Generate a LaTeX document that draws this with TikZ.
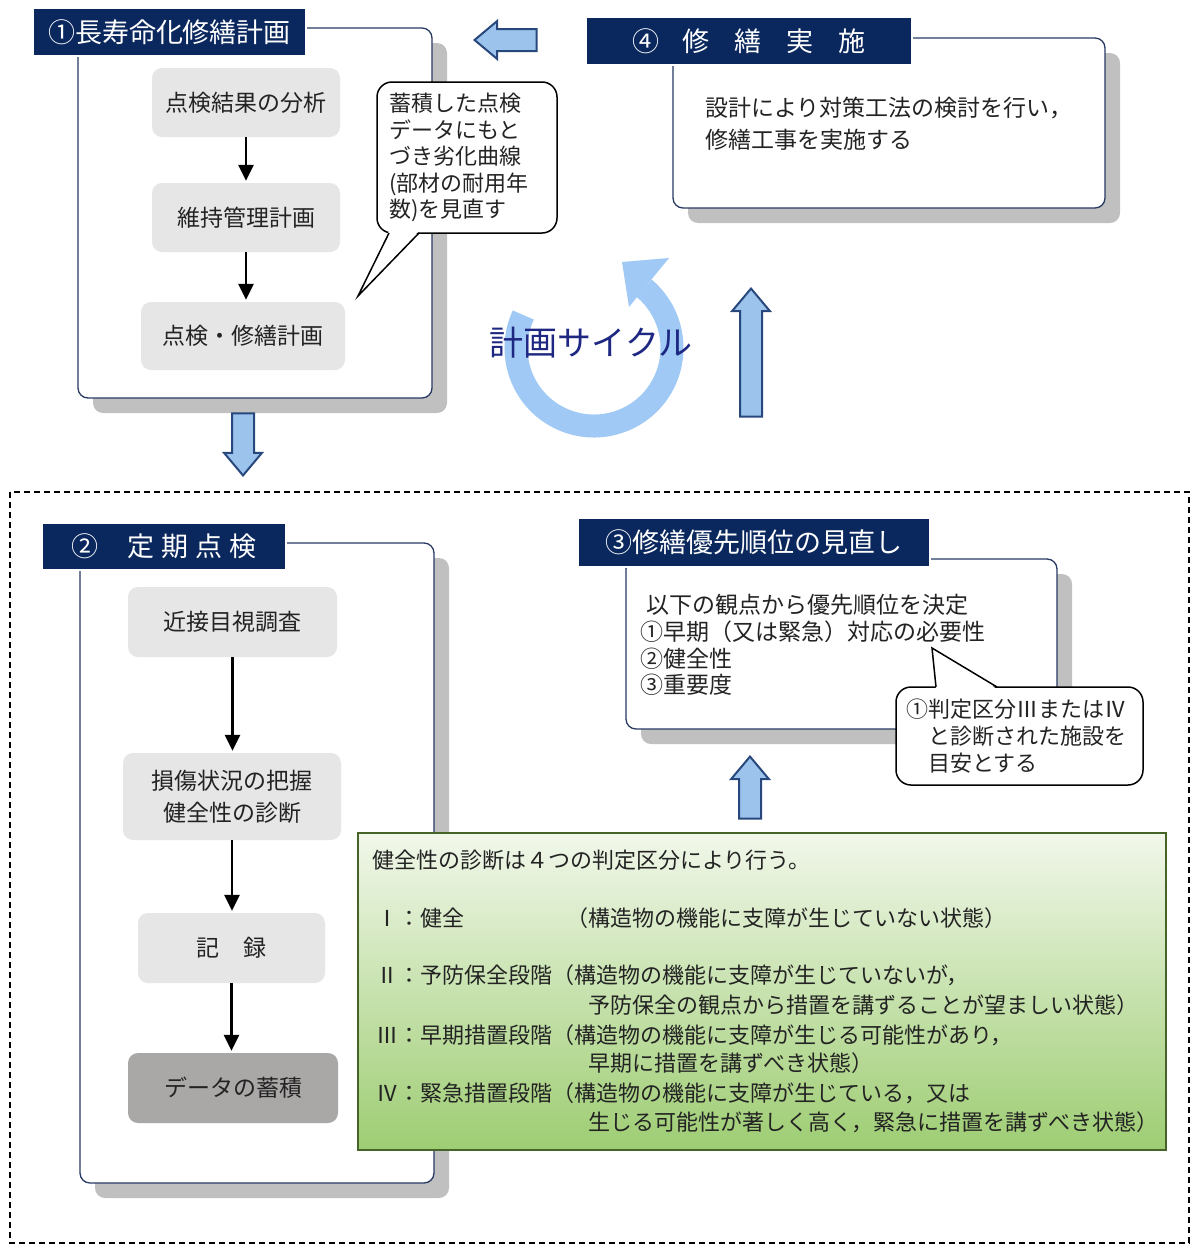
\documentclass[tikz,border=0pt]{standalone}
\usepackage{fontspec}
\setmainfont{Noto Sans CJK JP}
\usetikzlibrary{arrows.meta,shapes.arrows,shadows}

\definecolor{navy}{RGB}{10,40,94}
\definecolor{framecol}{RGB}{40,58,98}
\definecolor{shadowgray}{RGB}{192,192,192}
\definecolor{boxgray}{RGB}{230,230,230}
\definecolor{datagray}{RGB}{170,167,167}
\definecolor{textcol}{RGB}{35,35,35}
\definecolor{arrfill}{RGB}{155,195,235}
\definecolor{arrline}{RGB}{40,72,125}
\definecolor{cycblue}{RGB}{160,202,245}
\definecolor{cyctext}{RGB}{30,40,130}
\definecolor{greenline}{RGB}{70,100,40}
\definecolor{greentop}{RGB}{241,247,234}
\definecolor{greenbot}{RGB}{158,205,115}

\begin{document}
\begin{tikzpicture}[x=1pt,y=-1pt,
  frame/.style={draw=framecol,line width=1.3pt,fill=white,rounded corners=10pt,
    drop shadow={shadow xshift=15pt,shadow yshift=-15pt,fill=shadowgray,opacity=1}},
  titlebar/.style={fill=navy,draw=white,line width=2.5pt,text=white,inner sep=0pt,
    font=\fontsize{27}{30}\selectfont},
  stepbox/.style={fill=boxgray,rounded corners=10pt,text=textcol,align=center,inner sep=0pt,
    font=\fontsize{23}{32}\selectfont},
  flow/.style={-{Triangle[length=16pt,width=15pt]},line width=2.5pt,shorten >=2pt},
  callout/.style={draw=black,line width=1.5pt,fill=white,rounded corners=15pt,align=left,
    text=textcol,font=\fontsize{22}{26.5}\selectfont},
  blockarr/.style={single arrow,draw=arrline,fill=arrfill,line width=2pt,inner sep=10pt,
    minimum width=36pt,single arrow head extend=8pt,single arrow tip angle=80},
  gtext/.style={anchor=west,inner sep=0pt,text=textcol,font=\fontsize{22}{26}\selectfont}
]
\useasboundingbox (0,0) rectangle (1191,1245);

% dashed area
\draw[dash pattern=on 6pt off 4pt,line width=1.2pt] (10,492) rectangle (1189,1243);

% (1) plan
\node[frame,minimum width=354pt,minimum height=370pt] (f1) at (255,213) {};
\node[titlebar,minimum width=273pt,minimum height=48pt] (t1) at (169.5,32) {①長寿命化修繕計画};
\node[stepbox,minimum width=188pt,minimum height=69pt] (p1) at (246,102.5) {点検結果の分析};
\node[stepbox,minimum width=188pt,minimum height=69pt] (p2) at (246,217.5) {維持管理計画};
\node[stepbox,minimum width=204pt,minimum height=68pt] (p3) at (243,336) {点検・修繕計画};
  \draw[flow] (p1) -- (p2);
  \draw[flow] (p2.south) -- (p2.south |- p3.north);

\node[callout,text width=156pt,inner xsep=12pt,minimum height=151pt] (c1) at (467,157.5)
  {蓄積した点検\\データにもと\\づき劣化曲線\\(部材の耐用年\\数)を見直す};
\coordinate (c1tip) at (358,296);
\fill[white] (389,231) -- (c1tip) -- (419,231) -- cycle;
\draw[line width=1.5pt] (389,233) -- (c1tip) -- (419,233);

% (4) repair
\node[frame,minimum width=432pt,minimum height=170pt] (f4) at (889,123) {};
\node[titlebar,minimum width=326pt,minimum height=48pt] (t4) at (749,41)
  {④\hspace{24pt}修\hspace{25pt}繕\hspace{25pt}実\hspace{25pt}施};
\node[anchor=west,align=left,inner sep=0pt,text=textcol,font=\fontsize{23}{32}\selectfont] (d4) at (705,124)
  {設計により対策工法の検討を行い，\\修繕工事を実施する};

\node[blockarr,minimum height=62pt,rotate=180,anchor=tip] (aL) at (473,40) {};

% cycle
\coordinate (cyc) at (594,348);
\draw[cycblue,line width=23pt] (cyc) ++(155:78pt) arc[start angle=155,end angle=410,radius=78pt];
\fill[cycblue] (669,258) -- (629,307) -- (622,262) -- cycle;
\node[text=cyctext,font=\fontsize{34}{36}\selectfont] (cyclbl) at (591,343) {計画サイクル};

\node[blockarr,minimum height=128pt,rotate=90,anchor=tip] (aU) at (751,287) {};
\node[blockarr,minimum height=62pt,rotate=-90,anchor=tip] (aD) at (243,477) {};

% (2) inspection
\node[frame,minimum width=354pt,minimum height=640pt] (f2) at (257,863) {};
\node[titlebar,minimum width=244pt,minimum height=47pt] (t2) at (164,546.5)
  {②\hspace{29pt}定\hspace{7pt}期\hspace{7pt}点\hspace{7pt}検};
\node[stepbox,minimum width=209pt,minimum height=70pt] (q1) at (232.5,622) {近接目視調査};
\node[stepbox,minimum width=218pt,minimum height=87pt] (q2) at (232,796.5) {損傷状況の把握\\健全性の診断};
\node[stepbox,minimum width=187pt,minimum height=70pt] (q3) at (231.5,948) {記\hspace{24pt}録};
\node[stepbox,fill=datagray,minimum width=210pt,minimum height=70pt] (q4) at (233,1088) {データの蓄積};
  \draw[flow] (q1) -- (q1 |- q2.north);
  \draw[flow] (q2.south) -- (q2.south |- q3.north);
  \draw[flow] (q3.south) -- (q3.south |- q4.north);

% (3) priority
\node[frame,minimum width=431pt,minimum height=170pt] (f3) at (841.5,644) {};
\node[titlebar,minimum width=352pt,minimum height=49pt] (t3) at (754,542.5) {③修繕優先順位の見直し};
\node[anchor=west,align=left,inner sep=0pt,text=textcol,font=\fontsize{23}{26.7}\selectfont] (d3) at (640,645)
  {\hspace*{6pt}以下の観点から優先順位を決定\\①早期（又は緊急）対応の必要性\\②健全性\\③重要度};

\node[callout,text width=227pt,inner xsep=10pt,minimum height=98pt,font=\fontsize{22}{27}\selectfont] (c3) at (1019.5,736)
  {①判定区分ⅢまたはⅣ\\\hspace*{22pt}と診断された施設を\\\hspace*{22pt}目安とする};
\coordinate (c3tip) at (932,648);
\fill[white] (936,689) -- (c3tip) -- (997,689) -- cycle;
\draw[line width=1.5pt] (936,687) -- (c3tip) -- (997,687);

\node[blockarr,minimum height=62pt,rotate=90,anchor=tip] (aU2) at (750,755) {};

% judgement categories
\node[draw=greenline,line width=2.5pt,top color=greentop,bottom color=greenbot,
  minimum width=808pt,minimum height=317pt] (gbox) at (762,991.5) {};
\node[gtext] (g0) at (372,860) {健全性の診断は４つの判定区分により行う。};
\node[gtext] (g1) at (376,918) {Ⅰ：健全};
\node[gtext] (g1b) at (566,918) {（構造物の機能に支障が生じていない状態）};
\node[gtext] (g2) at (376,975) {Ⅱ：予防保全段階（構造物の機能に支障が生じていないが，};
\node[gtext] (g2b) at (588,1005) {予防保全の観点から措置を講ずることが望ましい状態）};
\node[gtext] (g3) at (376,1035) {Ⅲ：早期措置段階（構造物の機能に支障が生じる可能性があり，};
\node[gtext] (g3b) at (588,1063) {早期に措置を講ずべき状態）};
\node[gtext] (g4) at (376,1093) {Ⅳ：緊急措置段階（構造物の機能に支障が生じている，又は};
\node[gtext] (g4b) at (588,1122) {生じる可能性が著しく高く，緊急に措置を講ずべき状態）};

\end{tikzpicture}
\end{document}
